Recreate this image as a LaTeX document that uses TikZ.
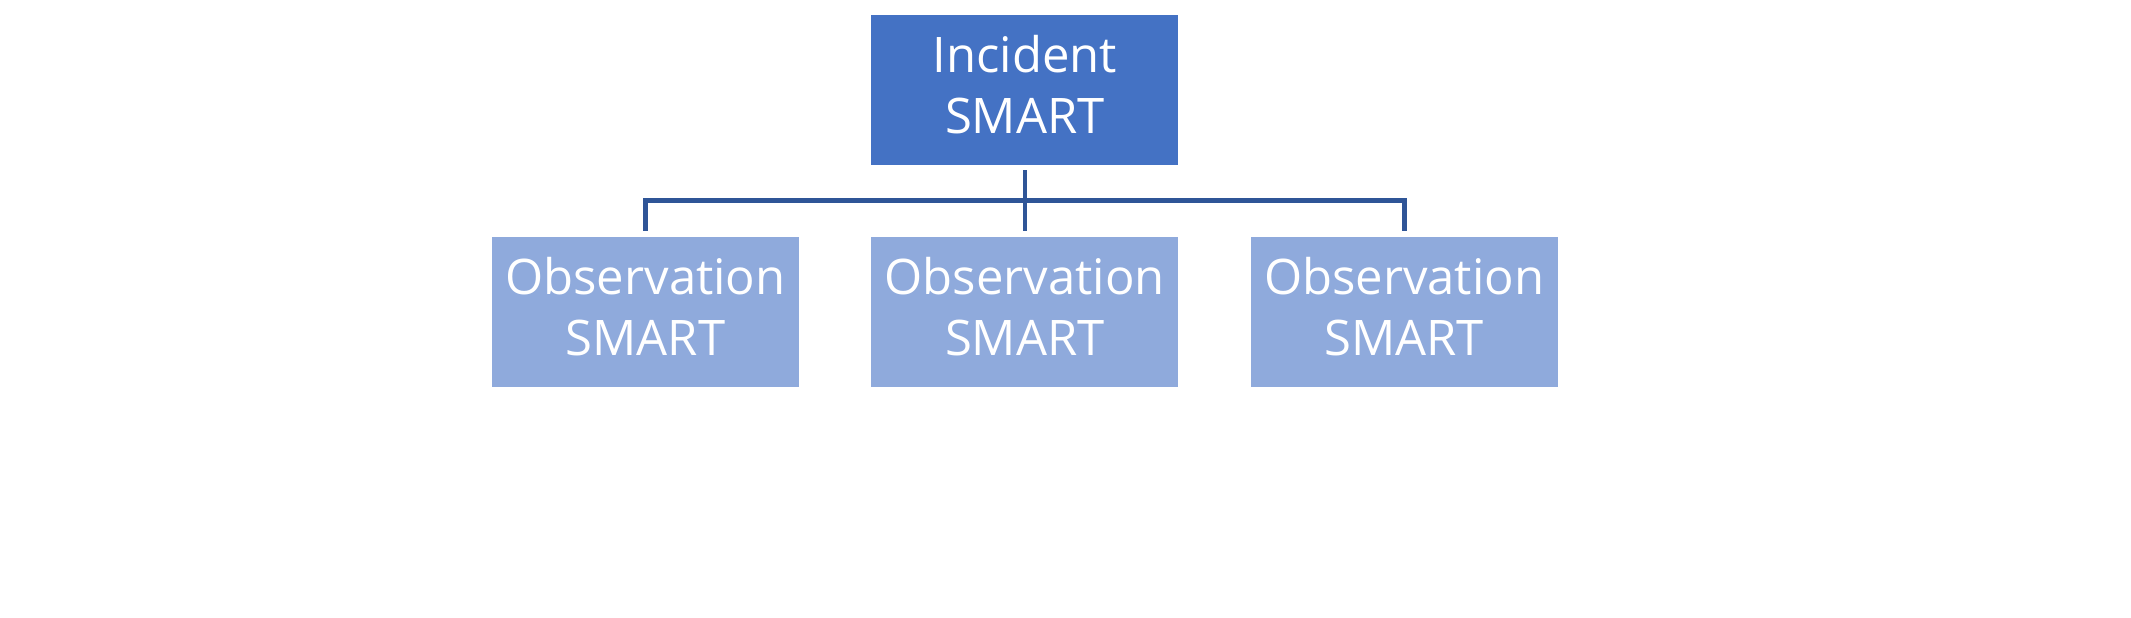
\documentclass[tikz,border=0pt]{standalone}
\usepackage{fontspec}
\setmainfont{Open Sans}
\definecolor{topblue}{HTML}{4472C4}
\definecolor{childblue}{HTML}{8FAADC}
\definecolor{linkblue}{HTML}{2F5597}
\tikzset{
  orgbox/.style={rectangle, draw=white, line width=0.8pt, minimum width=308pt, minimum height=151pt,
    inner sep=0pt, align=center, text=white, font=\fontsize{49}{61}\selectfont, text depth=10pt},
  topbox/.style={orgbox, fill=topblue},
  childbox/.style={orgbox, fill=childblue},
  link/.style={draw=linkblue, line width=4.7pt, line join=miter}
}
\begin{document}
\begin{tikzpicture}[x=1pt,y=-1pt]
\useasboundingbox (0,0) rectangle (2131,618);
\node[topbox] (top) at (1024.85,89.5) {Incident\\SMART};
\node[childbox] (c1) at (645.5,311.65) {Observation\\SMART};
\node[childbox] (c2) at (1024.85,311.65) {Observation\\SMART};
\node[childbox] (c3) at (1404.2,311.65) {Observation\\SMART};
\coordinate (j) at (1024.85,200.7);
\draw[link, shorten <=5pt] (top.south) -- (j);
\draw[link, shorten >=5pt] (j) -| (c1.north);
\draw[link, shorten >=5pt] (j) -| (c3.north);
\draw[link, shorten >=5pt] (j) -- (c2.north);
\end{tikzpicture}
\end{document}
